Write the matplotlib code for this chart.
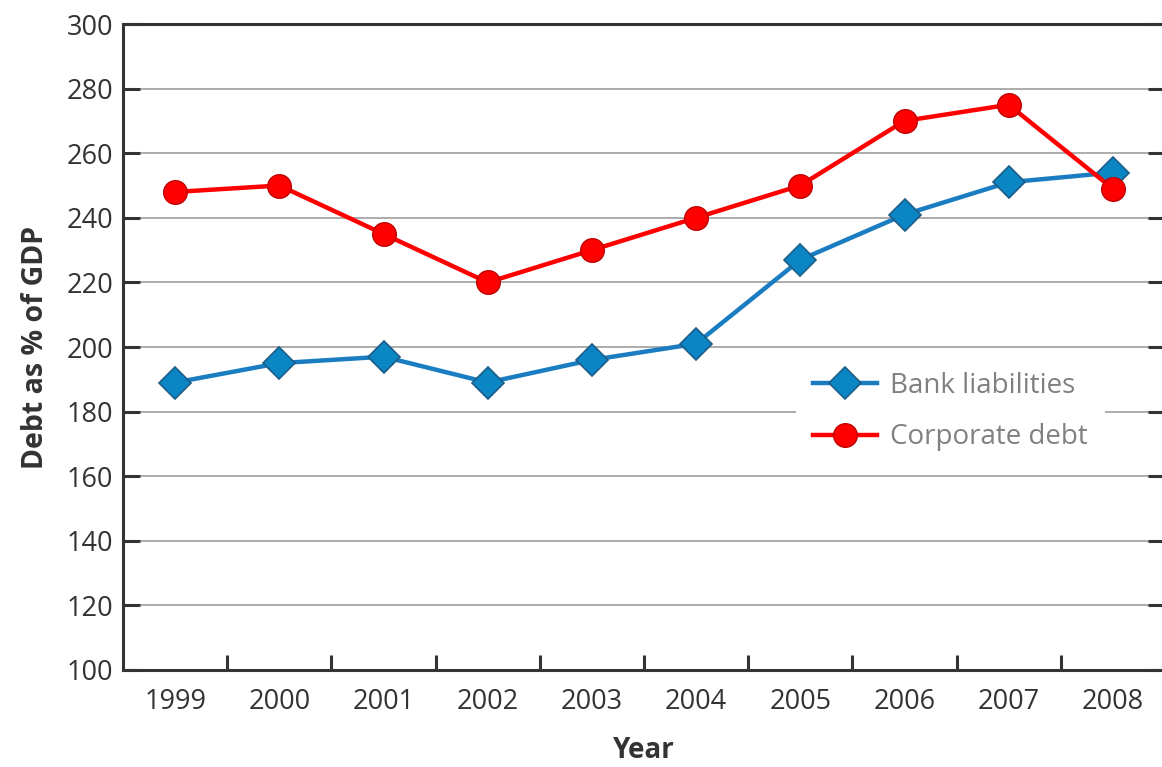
import numpy as np
import matplotlib
matplotlib.use("Agg")
from matplotlib import pyplot as plt

years = [1999, 2000, 2001, 2002, 2003, 2004, 2005, 2006, 2007, 2008]
bank_liabilities = [189, 195, 197, 189, 196, 201, 227, 241, 251, 254]
corporate_debt = [248, 250, 235, 220, 230, 240, 250, 270, 275, 249]
y_ticks = [100, 120, 140, 160, 180, 200, 220, 240, 260, 280, 300]

plt.rcParams['font.family'] = ['Open Sans', 'DejaVu Sans']

W, H = 1162, 767
fig = plt.figure(figsize=(W / 100, H / 100), dpi=100)
# axes box in pixels: left 123, right 1165 (just past the image edge), top 24, bottom 670
ax = fig.add_axes([123 / W, 1 - 670 / H, (1165 - 123) / W, (670 - 24) / H])

dark = "#333333"
ax.set_xlim(1998.5, 2008.5)
ax.set_ylim(100, 300)
ax.set_yticks(y_ticks)
ax.set_xticks(years)
ax.set_xticks(np.array(years[:-1]) + 0.5, minor=True)

for y in y_ticks[1:-1]:
    ax.axhline(y, color="#a6a6a6", lw=1.3, zorder=1)

ax.plot(years, bank_liabilities, color="#1a7dc2", lw=3.2, marker="D", ms=16,
        mfc="#0a86c4", mec="#1d5c86", mew=1.2, zorder=3, label="Bank liabilities")
ax.plot(years, corporate_debt, color="#ff0000", lw=3.2, marker="o", ms=17,
        mfc="#ff0000", mec="#c00000", mew=1.0, zorder=3, label="Corporate debt")

for side in ["left", "bottom", "top"]:
    ax.spines[side].set_linewidth(2.2)
    ax.spines[side].set_color(dark)
ax.spines["right"].set_visible(False)

ax.tick_params(axis="y", which="major", direction="in", length=12, width=2.2, color=dark,
               labelsize=19.5, labelcolor=dark, pad=7, right=True)
ax.tick_params(axis="x", which="major", length=0, labelsize=19.5, labelcolor=dark, pad=13)
ax.tick_params(axis="x", which="minor", direction="in", length=11, width=2.2, color=dark)

ax.set_ylabel("Debt as % of GDP", fontsize=20.5, fontweight="bold", color=dark, labelpad=12)
ax.set_xlabel("Year", fontsize=20, fontweight="bold", color=dark, labelpad=14)

leg = ax.legend(loc="upper left", bbox_to_anchor=((796 - 123) / (1165 - 123), (670 - 355) / (670 - 24)),
                frameon=True, fontsize=20, labelcolor="#808080", handlelength=2.3,
                borderpad=0.6, labelspacing=0.85, handletextpad=0.5, borderaxespad=0)
leg.get_frame().set_facecolor("white")
leg.get_frame().set_edgecolor("none")
leg.get_frame().set_alpha(1)
leg.set_zorder(2)

fig.savefig("out.png", dpi=100)
